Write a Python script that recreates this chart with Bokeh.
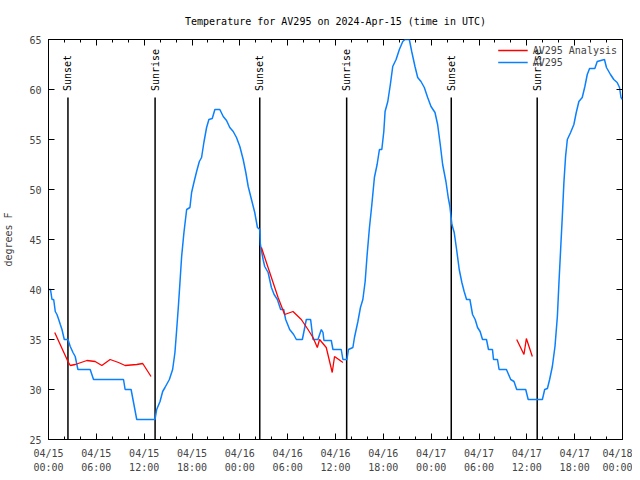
import math
from bokeh.plotting import figure
from bokeh.models import FixedTicker, LinearAxis, Range1d, Legend, LegendItem
from bokeh.core.properties import value
from bokeh.embed import file_html
from bokeh.resources import INLINE

FONT = "DejaVu Sans Mono"

title_text = "Temperature for AV295 on 2024-Apr-15 (time in UTC)"

# hours since 2024-04-15 00:00 UTC
obs_hours = [0.0, 0.25, 0.44, 0.65, 0.85, 1.06, 1.28, 1.48, 1.69, 1.98,
             2.44, 2.73, 3.07, 3.35, 3.69, 5.23, 5.65, 9.41, 9.61, 10.36,
             11.07, 13.36, 13.57, 13.99, 14.32, 14.61, 15.16, 15.57, 15.86, 16.08,
             16.29, 16.49, 16.70, 16.99, 17.33, 17.74, 17.95, 18.24, 18.58, 18.92,
             19.20, 19.49, 19.83, 20.12, 20.54, 20.87, 21.49, 21.92, 22.33, 22.74,
             23.17, 23.58, 24.00, 24.42, 24.75, 25.05, 25.46, 25.87, 26.21, 26.50,
             26.58, 26.92, 27.12, 27.55, 27.96, 28.30, 28.71, 29.12, 29.50, 29.75,
             30.25, 30.75, 31.09, 31.84, 32.34, 32.88, 33.18, 33.80, 34.22, 34.43,
             34.55, 35.47, 35.68, 36.72, 36.93, 37.43, 37.63, 38.18, 38.38, 38.81,
             39.13, 39.43, 39.72, 39.97, 40.26, 40.56, 40.88, 41.22, 41.51, 41.81,
             42.06, 42.22, 42.56, 42.88, 43.18, 43.60, 44.01, 44.44, 44.72, 45.26,
             45.56, 45.97, 46.31, 46.72, 47.14, 47.56, 47.98, 48.48, 48.81, 49.14,
             49.44, 49.85, 50.14, 50.35, 50.60, 50.89, 51.19, 51.52, 51.85, 52.14,
             52.44, 52.86, 53.19, 53.52, 53.82, 54.14, 54.44, 54.94, 55.19, 55.69,
             55.82, 56.32, 56.52, 57.44, 57.98, 58.39, 58.73, 59.86, 60.17, 61.95,
             62.24, 62.58, 62.86, 63.20, 63.53, 63.83, 64.03, 64.24, 64.45, 64.65,
             64.86, 65.08, 65.49, 65.90, 66.20, 66.53, 66.95, 67.28, 67.58, 67.87,
             68.53, 68.83, 69.74, 69.99, 70.49, 70.91, 71.33, 71.63, 71.81, 72.0]
obs_temps = [40, 40, 39, 39, 37.8, 37.5, 37, 36.5, 36, 35,
             35, 34.3, 33.7, 33.3, 32, 32, 31, 31, 30, 30,
             27, 27, 28, 28.8, 29.8, 30.2, 31, 32, 33.7, 36,
             38.3, 40.7, 43.3, 45.7, 48, 48.2, 49.7, 50.7, 51.8, 52.8,
             53.2, 54.7, 56.2, 57, 57.1, 58, 58, 57.3, 56.9, 56.2,
             55.8, 55.2, 54.3, 53, 51.7, 50.3, 49, 47.7, 46.2, 46,
             44.5, 43, 42.3, 41.7, 40.2, 39.5, 39, 38, 38, 37,
             36, 35.5, 35, 35, 37, 37, 35, 35, 36, 35.7,
             34.9, 34.9, 34, 34, 33, 33, 34, 34.2, 35.2, 36.8,
             38.2, 39, 40.8, 43.5, 46.2, 48.5, 51.2, 52.5, 54, 54,
             55.8, 57.8, 58.8, 60.5, 62.3, 63, 64, 64.8, 65, 65,
             63.8, 62.3, 61.2, 60.8, 60.2, 59.2, 58.3, 57.7, 56.5, 54.5,
             52.5, 50.8, 49.2, 48.3, 46.5, 45.7, 44, 42, 40.7, 39.8,
             39, 39, 37.5, 37, 36.2, 35.8, 35, 35, 34, 34,
             33, 33, 32, 32, 31, 30.8, 30, 30, 29, 29,
             30, 30.1, 31, 32.3, 34.3, 37.3, 40.7, 44, 47.3, 50.7,
             53.3, 55, 55.7, 56.5, 57.7, 58.8, 59.2, 60.3, 61.5, 62.1,
             62.1, 62.8, 63, 62.2, 61.5, 61, 60.7, 60.2, 59.2, 59]

ana_hours_1 = [0.78, 2.44, 2.73, 3.35, 4.82, 5.85, 6.69, 7.73, 8.78, 9.61, 11.07, 11.82, 12.86]
ana_temps_1 = [35.7, 32.8, 32.4, 32.5, 32.9, 32.8, 32.4, 33.0, 32.7, 32.4, 32.5, 32.6, 31.3]
ana_hours_2 = [26.71, 27.75, 28.80, 29.62, 30.67, 31.71, 32.55, 33.18, 33.72, 34.00, 34.84, 35.59, 35.88, 36.93]
ana_temps_2 = [44.2, 41.7, 39.2, 37.5, 37.8, 37.0, 36.0, 35.2, 34.2, 35.0, 34.2, 31.7, 33.3, 32.7]
ana_hours_3 = [58.73, 59.64, 59.94, 60.69]
ana_temps_3 = [35.0, 33.5, 35.1, 33.3]

event_hours = [2.44, 13.37, 26.50, 37.40, 50.52, 61.30]
event_labels = ["Sunset", "Sunrise", "Sunset", "Sunrise", "Sunset", "Sunrise"]
event_line_bottom = 25
event_line_top = 59.2
event_text_y = 59.85

x_tick_hours = [0, 6, 12, 18, 24, 30, 36, 42, 48, 54, 60, 66, 72]
x_tick_labels = ["04/15\n00:00", "04/15\n06:00", "04/15\n12:00", "04/15\n18:00",
                 "04/16\n00:00", "04/16\n06:00", "04/16\n12:00", "04/16\n18:00",
                 "04/17\n00:00", "04/17\n06:00", "04/17\n12:00", "04/17\n18:00",
                 "04/18\n00:00"]
x_minor_hours = list(range(0, 73, 2))
y_ticks = [25, 30, 35, 40, 45, 50, 55, 60, 65]

BLUE = "#0a80ff"
RED = "#ff0000"

p = figure(width=632, height=476, x_range=Range1d(0, 72), y_range=Range1d(25, 65),
           output_backend="svg", toolbar_location=None,
           min_border_left=46, min_border_right=10, min_border_top=39, min_border_bottom=37)

p.title.text = title_text
p.title.align = "center"
p.title.text_font = FONT
p.title.text_font_size = "10px"
p.title.text_font_style = "normal"
p.title.text_color = "black"
p.title.standoff = 26

p.grid.visible = False
p.outline_line_color = "black"
p.outline_line_width = 1
p.background_fill_color = "white"

# bottom axis
xa = p.xaxis[0]
xa.ticker = FixedTicker(ticks=x_tick_hours, minor_ticks=x_minor_hours)
xa.major_label_overrides = {t: l for t, l in zip(x_tick_hours, x_tick_labels)}
xa.major_label_text_font = FONT
xa.major_label_text_font_size = "10px"
xa.major_label_text_line_height = 1.3
xa.major_label_standoff = 8
xa.major_tick_in = 6
xa.major_tick_out = 0
xa.minor_tick_in = 3
xa.minor_tick_out = 0
xa.axis_line_color = "black"

# left axis
ya = p.yaxis[0]
ya.ticker = FixedTicker(ticks=y_ticks, minor_ticks=[])
ya.major_label_text_font = FONT
ya.major_label_text_font_size = "10px"
ya.major_label_standoff = 7
ya.major_tick_in = 6
ya.major_tick_out = 0
ya.minor_tick_line_color = None
ya.axis_label = "degrees F"
ya.axis_label_text_font = FONT
ya.axis_label_text_font_size = "10px"
ya.axis_label_text_font_style = "normal"
ya.axis_label_standoff = 12

# mirror axes
top = LinearAxis(ticker=FixedTicker(ticks=x_tick_hours, minor_ticks=x_minor_hours),
                 major_label_overrides={t: "" for t in x_tick_hours},
                 major_label_text_font_size="1px", major_label_standoff=0,
                 major_tick_in=6, major_tick_out=0, minor_tick_in=3, minor_tick_out=0,
                 axis_line_color=None)
p.add_layout(top, "above")
right = LinearAxis(ticker=FixedTicker(ticks=y_ticks, minor_ticks=[]),
                   major_label_overrides={t: "" for t in y_ticks},
                   major_label_text_font_size="1px", major_label_standoff=0,
                   major_tick_in=6, major_tick_out=0, minor_tick_line_color=None,
                   axis_line_color=None)
p.add_layout(right, "right")

# sunrise / sunset markers
p.segment(x0=event_hours, y0=[event_line_bottom] * len(event_hours),
          x1=event_hours, y1=[event_line_top] * len(event_hours),
          line_color="black", line_width=1.5)
p.text(x=event_hours, y=[event_text_y] * len(event_hours), text=event_labels,
       angle=math.pi / 2, text_align="left", text_baseline="middle",
       text_font=value(FONT), text_font_size="10px", text_color="black")

r_blue = p.line(obs_hours, obs_temps, line_color=BLUE, line_width=1.5)
r_red = p.multi_line(xs=[ana_hours_1, ana_hours_2, ana_hours_3],
                     ys=[ana_temps_1, ana_temps_2, ana_temps_3],
                     line_color=RED, line_width=1.3)

legend = Legend(items=[LegendItem(label="AV295 Analysis", renderers=[r_red]),
                       LegendItem(label="AV295", renderers=[r_blue])],
                location="top_right", margin=2, padding=3, spacing=0,
                glyph_width=30, glyph_height=12, label_height=12,
                label_text_font=FONT, label_text_font_size="10px",
                background_fill_alpha=0, border_line_alpha=0)
p.add_layout(legend)

open("out.html", "w").write(file_html(p, INLINE))
